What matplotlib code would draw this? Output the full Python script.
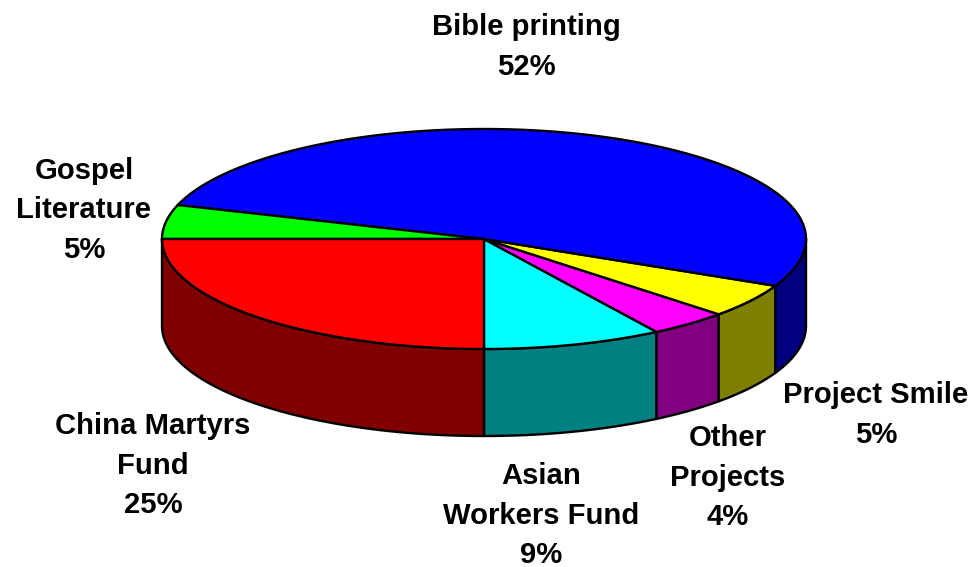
import numpy as np
import matplotlib
matplotlib.use("Agg")
import matplotlib.pyplot as plt

categories = ["Asian\nWorkers Fund", "Other\nProjects", "Project Smile", "Bible printing", "Gospel\nLiterature", "China Martyrs\nFund"]
values = [9, 4, 5, 52, 5, 25]
top_colors = ["#00FFFF", "#FF00FF", "#FFFF00", "#0000FF", "#00FF00", "#FF0000"]
side_colors = ["#008080", "#800080", "#808000", "#000080", "#008000", "#800000"]
label_xy = [(541, 515.5), (728, 477.5), (876, 415), (526, 47), (84, 210.5), (153, 465.5)]

W, H = 973, 567
CX, CY, RX, RY, DEPTH = 484.0, 239.0, 322.0, 110.0, 87.0

fig = plt.figure(figsize=(W / 100, H / 100), dpi=100)
ax = fig.add_axes([0, 0, 1, 1])
ax.set_xlim(0, W)
ax.set_ylim(H, 0)
ax.axis("off")


def rim(a0, a1, dy=0.0):
    t = np.radians(np.linspace(a0, a1, max(2, int(abs(a1 - a0) * 2))))
    return np.column_stack([CX + RX * np.sin(t), CY + dy + RY * np.cos(t)])


edges = np.concatenate([[0], np.cumsum(values)]) * 3.6
# side walls: only the front half of the rim
for a0, a1, col in zip(edges[:-1], edges[1:], side_colors):
    for lo, hi in [(max(a0, 0), min(a1, 90)), (max(a0, 270), min(a1, 360))]:
        if hi > lo:
            p = np.vstack([rim(lo, hi), rim(lo, hi, DEPTH)[::-1]])
            ax.fill(p[:, 0], p[:, 1], facecolor=col, edgecolor="black", linewidth=1.7, joinstyle="round", zorder=2)
# top slices
for a0, a1, col in zip(edges[:-1], edges[1:], top_colors):
    p = np.vstack([[CX, CY], rim(a0, a1)])
    ax.fill(p[:, 0], p[:, 1], facecolor=col, edgecolor="black", linewidth=1.7, joinstyle="round", zorder=3)

pct = [f"{v}%" for v in values]
for name, p, (x, y) in zip(categories, pct, label_xy):
    ax.text(x, y, f"{name}\n{p}", ha="center", va="center", multialignment="center",
            family="Liberation Sans", fontweight="bold", fontsize=21.1, linespacing=1.51, color="black", zorder=5)

fig.savefig("out.png", dpi=100, facecolor="white")
